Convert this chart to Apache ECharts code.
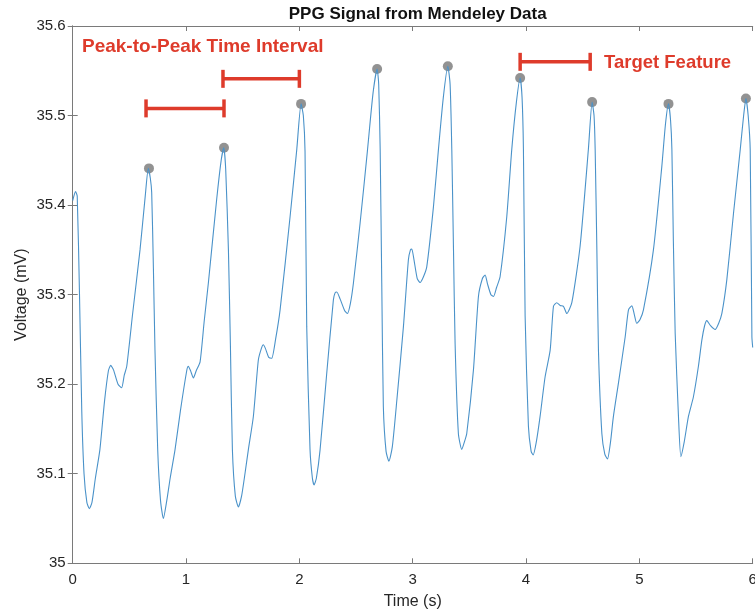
<!DOCTYPE html>
<html>
<head>
<meta charset="utf-8">
<script src="https://cdn.jsdelivr.net/npm/echarts@6/dist/echarts.min.js"></script>
<style>
html,body{margin:0;padding:0;background:#fff;overflow:hidden;}
#chart{width:755px;height:612px;}
</style>
</head>
<body>
<div id="chart"></div>
<script>
// Signal samples (time in s, voltage in mV)
const signalTime = [
0.000,0.025,0.040,0.060,0.080,0.100,0.125,0.147,0.170,0.200,0.240,0.280,0.315,0.335,0.360,0.400,0.432,0.455,0.477,0.530,0.594,0.640,0.667,0.685,0.697,0.712,0.726,0.750,0.775,
0.800,0.830,0.860,0.903,0.950,1.006,1.020,1.040,1.065,1.090,1.124,1.160,1.197,1.270,1.310,1.333,1.350,1.374,1.392,1.409,1.435,
1.462,1.490,1.520,1.550,1.594,1.638,1.665,1.682,1.700,1.730,1.756,1.790,1.830,1.918,1.977,2.015,2.035,2.050,2.065,2.094,2.115,
2.130,2.150,2.183,2.240,2.300,2.315,2.330,2.360,2.400,2.424,2.450,2.477,2.536,2.600,2.650,2.686,2.700,2.713,2.727,2.741,2.765,
2.790,2.820,2.860,2.918,2.962,2.980,2.992,3.010,3.040,3.065,3.095,3.124,3.183,3.227,3.270,3.310,3.330,3.345,3.360,3.374,3.403,
3.433,3.455,3.477,3.536,3.580,3.615,3.639,3.660,3.690,3.713,3.740,3.771,3.830,3.874,3.915,3.948,3.965,3.977,3.992,4.021,4.045,
4.063,4.090,4.124,4.168,4.213,4.242,4.271,4.300,4.330,4.360,4.404,4.477,4.550,4.583,4.600,4.610,4.625,4.639,4.669,4.695,
4.719,4.745,4.771,4.815,4.875,4.904,4.934,4.955,4.977,5.005,5.036,5.124,5.198,5.230,5.257,5.275,5.287,5.300,5.316,5.345,
5.366,5.395,5.433,5.477,5.521,5.551,5.575,5.595,5.630,5.669,5.700,5.728,5.772,5.830,5.890,5.920,5.940,5.960,5.978,5.993,6.000
];
const signalVoltage = [
35.405,35.415,35.410,35.300,35.170,35.100,35.068,35.061,35.068,35.095,35.127,35.180,35.215,35.221,35.216,35.200,35.196,35.210,35.220,35.280,35.350,35.410,35.441,35.430,35.414,35.330,35.238,35.127,35.070,
35.050,35.070,35.095,35.127,35.170,35.215,35.220,35.215,35.207,35.215,35.225,35.270,35.313,35.406,35.450,35.464,35.440,35.350,35.240,35.127,35.075,
35.063,35.075,35.100,35.127,35.164,35.227,35.240,35.244,35.240,35.230,35.229,35.250,35.283,35.387,35.462,35.513,35.500,35.460,35.264,35.127,35.095,
35.0875,35.095,35.127,35.210,35.294,35.302,35.303,35.295,35.282,35.279,35.290,35.313,35.380,35.460,35.525,35.552,35.535,35.462,35.313,35.175,35.125,
35.114,35.130,35.182,35.264,35.339,35.350,35.351,35.340,35.318,35.3135,35.320,35.331,35.398,35.462,35.520,35.555,35.535,35.462,35.350,35.246,35.145,
35.127,35.135,35.145,35.216,35.298,35.318,35.322,35.312,35.300,35.298,35.308,35.320,35.387,35.462,35.515,35.542,35.520,35.462,35.276,35.153,35.125,
35.121,35.135,35.164,35.208,35.238,35.287,35.291,35.288,35.287,35.279,35.291,35.354,35.462,35.515,35.500,35.462,35.350,35.238,35.145,35.122,
35.1165,35.135,35.164,35.201,35.253,35.283,35.2875,35.278,35.268,35.272,35.283,35.350,35.443,35.490,35.513,35.495,35.462,35.360,35.257,35.164,
35.119,35.135,35.164,35.186,35.220,35.249,35.265,35.271,35.265,35.261,35.268,35.279,35.317,35.390,35.462,35.500,35.519,35.500,35.462,35.253,35.241
];
// Detected peaks
const peakTime = [0.673,1.335,2.015,2.686,3.310,3.948,4.583,5.257,5.940];
const peakVoltage = [35.441,35.464,35.513,35.552,35.555,35.542,35.515,35.513,35.519];
// Annotation brackets: start time, end time, voltage level
const bracketStart = [0.647,1.326,3.948];
const bracketEnd = [1.335,2.000,4.566];
const bracketLevel = [35.508,35.541,35.560];
// Axis ticks
const xTicks = [0,1,2,3,4,5,6];
const yTicks = [35,35.1,35.2,35.3,35.4,35.5,35.6];
const titleText = 'PPG Signal from Mendeley Data';
const xName = 'Time (s)';
const yName = 'Voltage (mV)';
const annot1 = 'Peak-to-Peak Time Interval';
const annot2 = 'Target Feature';

const FONT = "'Liberation Sans', Arial, Helvetica, sans-serif";
const RED = '#de3b2b';
const AXIS = '#7a7a7a';

const lineData = signalTime.map((t,i)=>[t, signalVoltage[i]]);
const peakData = peakTime.map((t,i)=>[t, peakVoltage[i]]);
const bracketData = bracketStart.map((s,i)=>[s, bracketEnd[i], bracketLevel[i]]);

const chart = echarts.init(document.getElementById('chart'), null, {renderer:'canvas', width:755, height:612});
const xBase = {type:'value', min:xTicks[0], max:xTicks[xTicks.length-1], interval:1};
const yBase = {type:'value', min:yTicks[0], max:yTicks[yTicks.length-1], interval:0.1};
const fmtY = v => String(Math.round(v*10)/10);

chart.setOption({
  backgroundColor:'#fff',
  animation:false,
  title:{
    text:titleText, left:412.7, textAlign:'center', top:1,
    textStyle:{fontFamily:FONT, fontSize:17, fontWeight:'bold', color:'#111'}
  },
  grid:{left:72.7, right:2.3, top:26, bottom:48.7, containLabel:false, outerBoundsMode:'none'},
  xAxis:[
    Object.assign({}, xBase, {
      position:'bottom', name:xName, nameLocation:'middle', nameGap:30, nameMoveOverlap:false,
      nameTextStyle:{fontFamily:FONT, fontSize:16, color:'#262626'},
      axisLine:{show:true, lineStyle:{color:AXIS, width:1}},
      axisTick:{show:true, inside:true, length:5, lineStyle:{color:AXIS}},
      axisLabel:{show:true, margin:9, fontFamily:FONT, fontSize:15, color:'#262626'},
      splitLine:{show:false}
    }),
    Object.assign({}, xBase, {
      position:'top',
      axisLine:{show:true, lineStyle:{color:AXIS, width:1}},
      axisTick:{show:true, inside:true, length:5, lineStyle:{color:AXIS}},
      axisLabel:{show:false}, splitLine:{show:false}
    })
  ],
  yAxis:[
    Object.assign({}, yBase, {
      position:'left', name:yName, nameLocation:'middle', nameGap:43, nameMoveOverlap:false,
      nameTextStyle:{fontFamily:FONT, fontSize:16, color:'#262626'},
      axisLine:{show:true, lineStyle:{color:AXIS, width:1}},
      axisTick:{show:true, inside:true, length:5, lineStyle:{color:AXIS}},
      axisLabel:{show:true, margin:7, fontFamily:FONT, fontSize:15, color:'#262626', formatter:fmtY},
      splitLine:{show:false}
    }),
    Object.assign({}, yBase, {
      position:'right',
      axisLine:{show:true, lineStyle:{color:AXIS, width:1}},
      axisTick:{show:true, inside:true, length:5, lineStyle:{color:AXIS}},
      axisLabel:{show:false}, splitLine:{show:false}
    })
  ],
  series:[
    {
      type:'scatter', name:'Peaks', xAxisIndex:0, yAxisIndex:0, z:2,
      data:peakData, symbol:'circle', symbolSize:10,
      itemStyle:{color:'#8c8c8c', opacity:0.95}
    },
    {
      type:'line', name:'PPG', xAxisIndex:0, yAxisIndex:0, z:3,
      data:lineData, showSymbol:false, smooth:0.2,
      lineStyle:{color:'#4a92c9', width:1.1}
    },
    {
      type:'custom', name:'Brackets', xAxisIndex:0, yAxisIndex:0, z:4,
      data:bracketData,
      encode:{x:[0,1], y:2},
      renderItem:function(params, api){
        const p1 = api.coord([api.value(0), api.value(2)]);
        const p2 = api.coord([api.value(1), api.value(2)]);
        const h = 9;
        const st = {stroke:RED, lineWidth:3.5, lineCap:'butt'};
        return {type:'group', children:[
          {type:'line', shape:{x1:p1[0], y1:p1[1], x2:p2[0], y2:p2[1]}, style:st},
          {type:'line', shape:{x1:p1[0], y1:p1[1]-h, x2:p1[0], y2:p1[1]+h}, style:st},
          {type:'line', shape:{x1:p2[0], y1:p2[1]-h, x2:p2[0], y2:p2[1]+h}, style:st}
        ]};
      }
    }
  ],
  graphic:[
    {type:'text', left:82, top:37, z:10,
     style:{text:annot1, fill:RED, font:"bold 19px "+FONT}},
    {type:'text', left:604, top:53, z:10,
     style:{text:annot2, fill:RED, font:"bold 18.5px "+FONT}}
  ]
});
</script>
</body>
</html>
